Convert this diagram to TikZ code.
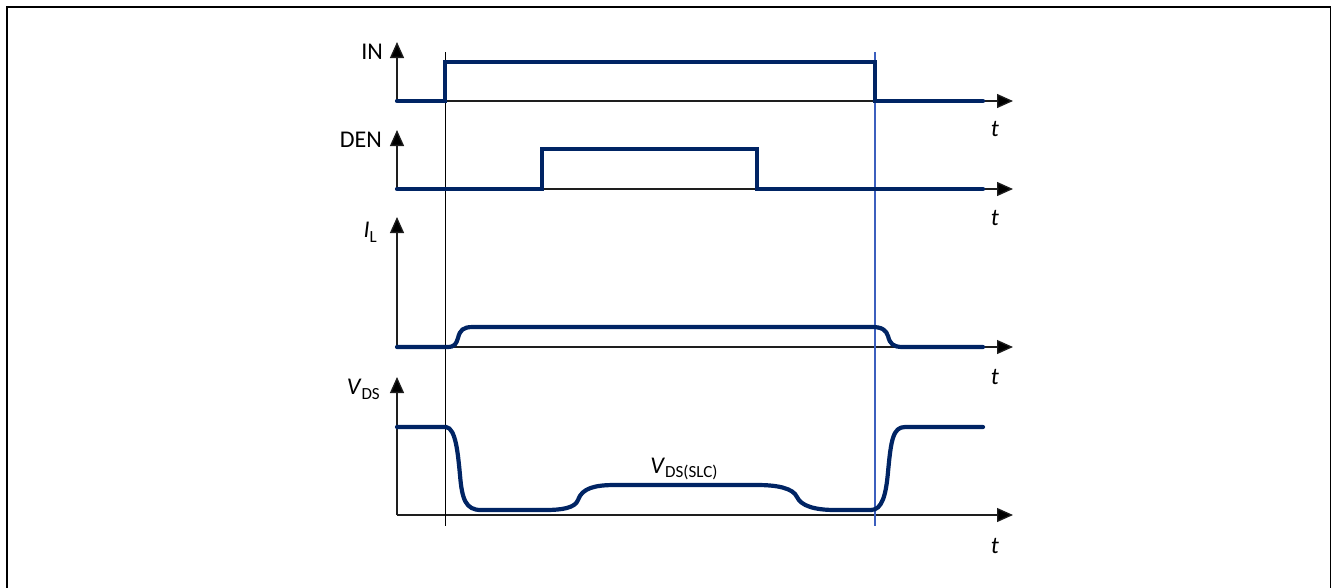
\documentclass[tikz,border=0pt]{standalone}
\usepackage{fontspec}
\setmainfont{Carlito}
\usetikzlibrary{arrows.meta}
\definecolor{wave}{RGB}{0,36,100}
\definecolor{axisgray}{RGB}{30,30,30}
\definecolor{markblue}{RGB}{60,95,190}
\newcommand{\lbl}{\fontsize{24}{28}\selectfont}
\newcommand{\sbs}[1]{\raisebox{-0.2em}{\fontsize{17}{20}\selectfont #1}}
\begin{document}
\begin{tikzpicture}[x=1pt,y=-1pt,
  waveline/.style={draw=wave,line width=4.2pt,line cap=round,line join=miter},
  axisline/.style={draw=axisgray,line width=1.3pt,-{Triangle[length=16pt,width=14pt,fill=black]}},
  lab/.style={inner sep=0pt,font=\lbl},
  tlab/.style={inner sep=0pt,font=\lbl\itshape}]
\useasboundingbox (0,0) rectangle (1332,587);
\draw[line width=1.5pt] (7,7) rectangle (1330.5,589);

% origins
\coordinate (oIN) at (397,101);
\coordinate (oDEN) at (397,189);
\coordinate (oIL) at (397,347);
\coordinate (oVDS) at (397,515);

% axes
\draw[axisline] (oIN) -- (397,42);
\draw[axisline] (oIN) -- (1013,101);
\draw[axisline] (oDEN) -- (397,130);
\draw[axisline] (oDEN) -- (1013,189);
\draw[axisline] (oIL) -- (397,217);
\draw[axisline] (oIL) -- (1013,347);
\draw[axisline] (oVDS) -- (397,377);
\draw[axisline] (oVDS) -- (1013,515);

% marker lines
\coordinate (m1t) at (445,52);
\coordinate (m1b) at (445,526);
\coordinate (m2t) at (875,52);
\coordinate (m2b) at (875,526);
\draw[black,line width=1pt] (m1t) -- (m1b);
\draw[markblue,line width=1.2pt] (m2t) -- (m2b);

% IN
\draw[waveline] (oIN) -- (445,101) -- (445,62) -- (875,62) -- (875,101) -- (983,101);
% DEN
\draw[waveline] (oDEN) -- (542,189) -- (542,149) -- (757,149) -- (757,189) -- (983,189);
% IL
\draw[waveline] (oIL) -- (447,347) .. controls (455,347) and (456,344) .. (458,338)
  .. controls (460,330) and (463,327) .. (473,327) -- (872,327)
  .. controls (882,327) and (886,330) .. (888,336)
  .. controls (890,344) and (893,347) .. (903,347) -- (983,347);
% VDS
\draw[waveline] (397,427) -- (446,427) .. controls (456,428) and (458,455) .. (460,475)
  .. controls (462,500) and (466,510) .. (481,510) -- (545,510)
  .. controls (562,510) and (575,508) .. (578,500)
  .. controls (582,488) and (595,485) .. (615,485) -- (757,485)
  .. controls (777,485) and (793,488) .. (797,497)
  .. controls (801,506) and (815,510) .. (835,510) -- (871,510)
  .. controls (882,510) and (886,495) .. (888,472)
  .. controls (891,440) and (893,427) .. (905,427) -- (983,427);

% labels
\node[lab,anchor=east] (tIN) at (383,52) {IN};
\node[lab,anchor=east] (tDEN) at (382,140) {DEN};
\node[lab,anchor=east] (tIL) at (377,232) {\textit{I}\sbs{L}};
\node[lab,anchor=east] (tVDS) at (380,389) {\textit{V}\sbs{DS}};
\node[lab] (tSLC) at (684,469) {\textit{V}\sbs{DS(SLC)}};
\node[tlab] (t1) at (995,129) {t};
\node[tlab] (t2) at (995,218) {t};
\node[tlab] (t3) at (995,377) {t};
\node[tlab] (t4) at (995,546) {t};
\end{tikzpicture}
\end{document}
